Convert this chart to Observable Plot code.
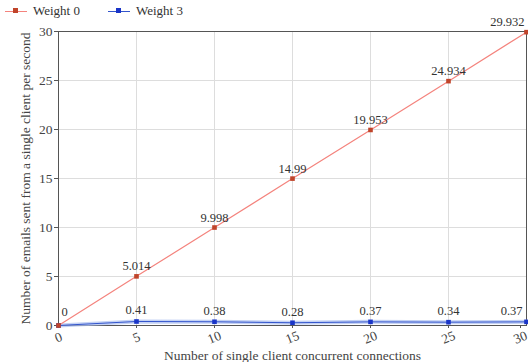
<!DOCTYPE html>
<html><head><meta charset="utf-8">
<script src="https://cdn.jsdelivr.net/npm/d3@7"></script>
<script src="https://cdn.jsdelivr.net/npm/@observablehq/plot@0.6"></script>
<style>
body{margin:0;background:#fff;font-family:"Liberation Serif","Times New Roman",Times,serif;}
#legend{height:22px;position:relative;font-size:13px;color:#333;font-family:"Liberation Serif","Times New Roman",Times,serif;}
.item{position:absolute;top:3px;display:flex;align-items:center;}
.sw{position:relative;width:22px;height:10px;margin-right:6px;}
.sw .ln{position:absolute;left:0;right:0;top:4.5px;height:1px;}
.sw .mk{position:absolute;left:8px;top:2px;width:5px;height:5px;}
svg text{font-family:"Liberation Serif","Times New Roman",Times,serif;}
</style></head><body>
<div id="legend"></div>
<div id="chart"></div>
<script>
const connections = [0, 5, 10, 15, 20, 25, 30];
const weight0 = [0, 5.014, 9.998, 14.99, 19.953, 24.934, 29.932];
const weight3 = [0, 0.41, 0.38, 0.28, 0.37, 0.34, 0.37];
const weight0Labels = ["0", "5.014", "9.998", "14.99", "19.953", "24.934", "29.932"];
const weight3Labels = ["", "0.41", "0.38", "0.28", "0.37", "0.34", "0.37"];
const seriesNames = ["Weight 0", "Weight 3"];
const xTicks = [0, 5, 10, 15, 20, 25, 30];
const yTicks = [0, 5, 10, 15, 20, 25, 30];

const lineColors = ["#f4837d", "#3355cc"];
const markColors = ["#c0442a", "#1a35c8"];
const serif = "'Liberation Serif', 'Times New Roman', Times, serif";

const legend = document.getElementById("legend");
seriesNames.forEach((n, i) => {
  const it = document.createElement("div");
  it.className = "item";
  it.style.left = (5 + i * 103) + "px";
  it.innerHTML = `<div class="sw"><div class="ln" style="background:${lineColors[i]}"></div><div class="mk" style="background:${markColors[i]}"></div></div><span>${n}</span>`;
  legend.appendChild(it);
});

const d0 = connections.map((x, i) => ({x, y: weight0[i], label: weight0Labels[i]}));
const d3s = connections.map((x, i) => ({x, y: weight3[i], label: weight3Labels[i]}));
const mid = (d) => d.x > 0 && d.x < 30;
const xTicksMain = xTicks.filter((t) => t < 30);
const xTicksLast = xTicks.filter((t) => t === 30);

const chart = Plot.plot({
  width: 528,
  height: 340,
  marginTop: 9,
  marginBottom: 37,
  marginLeft: 58,
  marginRight: 2,
  style: {fontFamily: serif, fontSize: "12.5px", color: "#333", overflow: "visible"},
  x: {domain: [0, 30], ticks: xTicks},
  y: {domain: [0, 30], ticks: yTicks},
  marks: [
    Plot.gridX(xTicks, {stroke: "#ddd", strokeOpacity: 1}),
    Plot.gridY(yTicks, {stroke: "#ddd", strokeOpacity: 1}),
    Plot.frame({stroke: "#555"}),
    Plot.axisY({ticks: yTicks, tickSize: 4, tickPadding: 2, fontSize: 13.5, stroke: "#555", label: "Number of emails sent from a single client per second", labelAnchor: "center", labelArrow: "none", labelOffset: 38, fill: "#444"}),
    Plot.axisX({ticks: xTicksMain, tickSize: 3, tickPadding: 9, tickRotate: -22, textAnchor: "middle", fontSize: 13.5, stroke: "#555", label: "Number of single client concurrent connections", labelAnchor: "center", labelArrow: "none", labelOffset: 34, fill: "#444"}),
    Plot.axisX({ticks: xTicksLast, tickSize: 3, tickPadding: 9, tickRotate: -22, textAnchor: "middle", fontSize: 13.5, stroke: "#555", dx: -6, label: null, fill: "#444"}),
    Plot.line(d3s, {x: "x", y: "y", stroke: "#a9bdf0", strokeWidth: 4, strokeOpacity: 0.7}),
    Plot.line(d3s, {x: "x", y: "y", stroke: lineColors[1], strokeWidth: 1}),
    Plot.line(d0, {x: "x", y: "y", stroke: lineColors[0], strokeWidth: 1.2}),
    Plot.dot(d3s, {x: "x", y: "y", symbol: "square", r: 2.6, fill: markColors[1]}),
    Plot.dot(d0, {x: "x", y: "y", symbol: "square", r: 2.6, fill: markColors[0]}),
    Plot.text(d0, {filter: mid, x: "x", y: "y", text: "label", dy: -10, fontSize: 12.5, fill: "#333"}),
    Plot.text(d0, {filter: (d) => d.x === 0, x: "x", y: "y", text: "label", dy: -14, dx: 6, fontSize: 12.5, fill: "#333"}),
    Plot.text(d0, {filter: (d) => d.x === 30, x: "x", y: "y", text: "label", textAnchor: "end", dy: -10, dx: -2, fontSize: 12.5, fill: "#333"}),
    Plot.text(d3s, {filter: mid, x: "x", y: "y", text: "label", dy: -11, fontSize: 12.5, fill: "#333"}),
    Plot.text(d3s, {filter: (d) => d.x === 30, x: "x", y: "y", text: "label", textAnchor: "end", dy: -11, dx: -4, fontSize: 12.5, fill: "#333"})
  ]
});
document.getElementById("chart").appendChild(chart);
</script>
</body></html>
